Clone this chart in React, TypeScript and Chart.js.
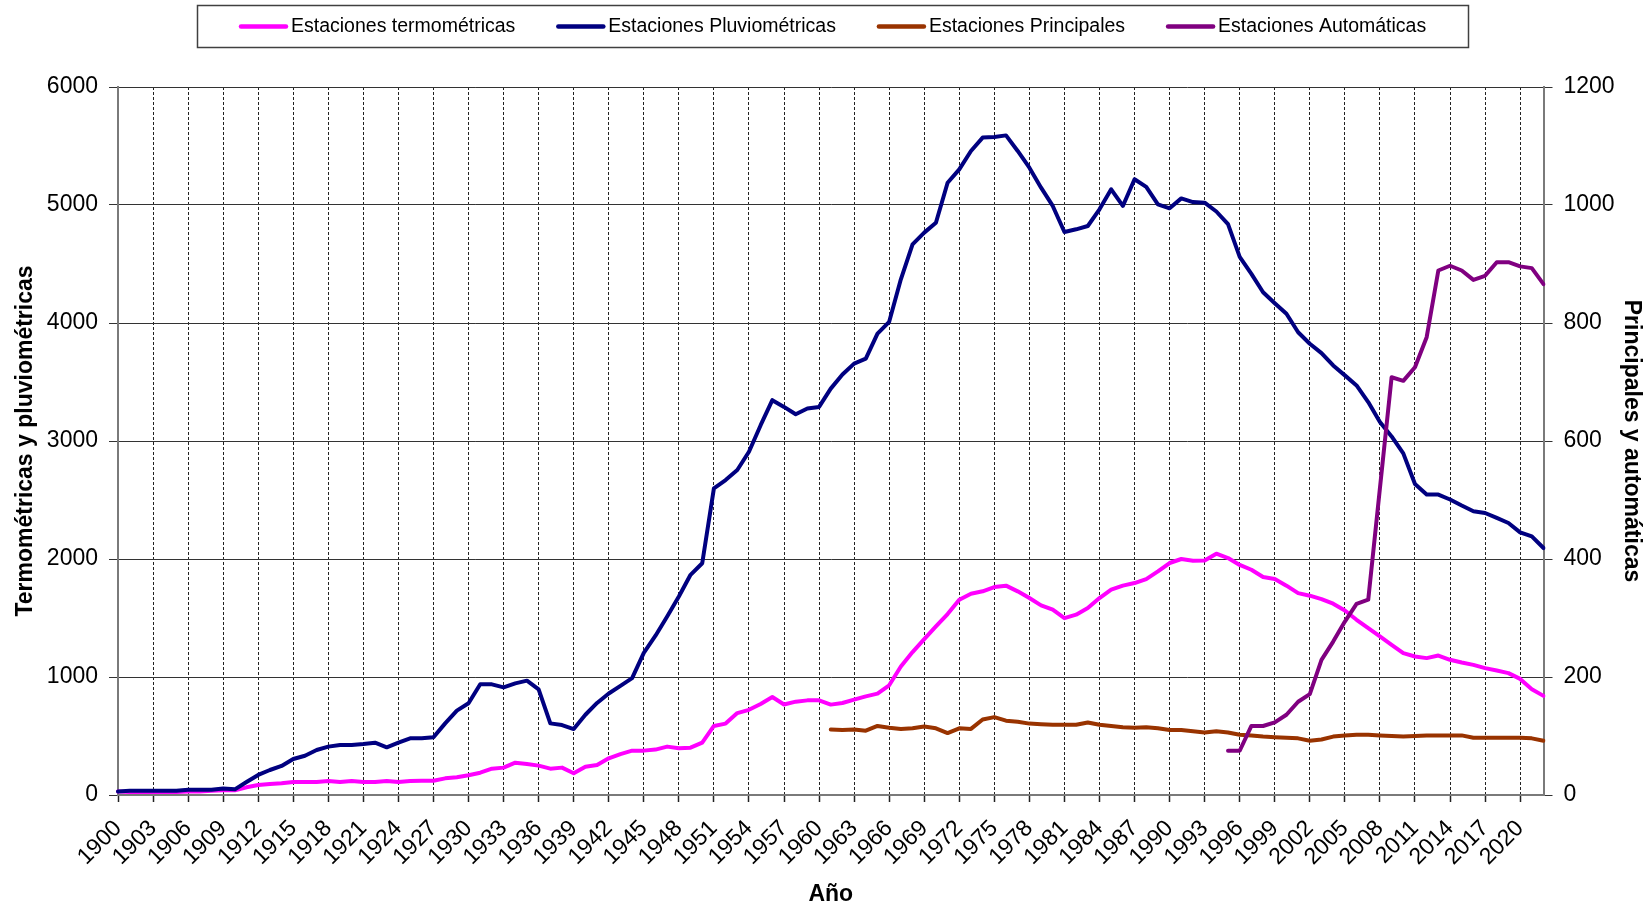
import React, { useEffect, useRef } from "react";
import { Chart, registerables } from "chart.js";
Chart.register(...registerables);

const FONT = "'Liberation Sans', Arial, Helvetica, sans-serif";

const YEARS = [
  1900, 1901, 1902, 1903, 1904, 1905, 1906, 1907, 1908, 1909,
  1910, 1911, 1912, 1913, 1914, 1915, 1916, 1917, 1918, 1919,
  1920, 1921, 1922, 1923, 1924, 1925, 1926, 1927, 1928, 1929,
  1930, 1931, 1932, 1933, 1934, 1935, 1936, 1937, 1938, 1939,
  1940, 1941, 1942, 1943, 1944, 1945, 1946, 1947, 1948, 1949,
  1950, 1951, 1952, 1953, 1954, 1955, 1956, 1957, 1958, 1959,
  1960, 1961, 1962, 1963, 1964, 1965, 1966, 1967, 1968, 1969,
  1970, 1971, 1972, 1973, 1974, 1975, 1976, 1977, 1978, 1979,
  1980, 1981, 1982, 1983, 1984, 1985, 1986, 1987, 1988, 1989,
  1990, 1991, 1992, 1993, 1994, 1995, 1996, 1997, 1998, 1999,
  2000, 2001, 2002, 2003, 2004, 2005, 2006, 2007, 2008, 2009,
  2010, 2011, 2012, 2013, 2014, 2015, 2016, 2017, 2018, 2019,
  2020, 2021, 2022,
];

// every third year carries a tick label
const TICK_EVERY = 3;

const TERMO = [
  30, 25, 25, 25, 25, 25, 30, 30, 35, 40,
  40, 65, 85, 93, 99, 110, 110, 110, 119, 110,
  119, 110, 110, 119, 110, 119, 121, 121, 141, 150,
  167, 189, 223, 232, 274, 263, 249, 223, 232, 184,
  240, 254, 311, 347, 376, 376, 385, 410, 396, 401,
  444, 585, 605, 694, 722, 771, 830, 767, 791, 802,
  802, 766, 780, 808, 836, 859, 930, 1089, 1211, 1321,
  1429, 1533, 1655, 1706, 1726, 1762, 1774, 1726, 1669, 1607,
  1570, 1499, 1528, 1584, 1669, 1740, 1774, 1796, 1830, 1895,
  1966, 2000, 1986, 1988, 2045, 2008, 1950, 1909, 1847, 1830,
  1774, 1711, 1689, 1660, 1621, 1564, 1485, 1414, 1344, 1273,
  1202, 1174, 1160, 1182, 1146, 1123, 1103, 1075, 1055, 1033,
  984, 897, 840,
];

const PLUVIO = [
  30, 35, 35, 37, 37, 37, 45, 45, 45, 55,
  48, 110, 170, 212, 246, 305, 333, 381, 410, 424,
  424, 432, 443, 404, 443, 480, 480, 489, 607, 715,
  777, 938, 938, 912, 946, 969, 895, 607, 593, 559,
  680, 780, 860, 925, 990, 1205, 1350, 1513, 1682, 1866,
  1964, 2599, 2669, 2754, 2909, 3134, 3346, 3289, 3227, 3275,
  3289, 3444, 3563, 3656, 3698, 3910, 4010, 4370, 4667, 4766,
  4850, 5189, 5302, 5458, 5571, 5576, 5590, 5458, 5316, 5147,
  4992, 4771, 4794, 4822, 4963, 5133, 4992, 5218, 5153, 5006,
  4972, 5056, 5025, 5020, 4945, 4838, 4560, 4416, 4261, 4168,
  4078, 3922, 3824, 3745, 3640, 3556, 3471, 3330, 3161, 3039,
  2895, 2635, 2546, 2546, 2504, 2453, 2405, 2390, 2348, 2305,
  2226, 2192, 2093,
];

const PRINC_START = 1961;
const PRINCIPALES = [
  111, 110, 111, 109, 117, 114, 112, 113, 116,
  113, 105, 113, 112, 128, 132, 126, 124, 121, 120,
  119, 119, 119, 123, 119, 117, 115, 114, 115, 113,
  110, 110, 108, 106, 108, 106, 102, 101, 99, 98,
  97, 96, 92, 94, 99, 101, 102, 102, 101, 100,
  99, 100, 101, 101, 101, 101, 97, 97, 97, 97,
  97, 96, 92,
];

const AUTO_START = 1995;
const AUTOMATICAS = [
  75, 75, 117, 117, 123,
  136, 158, 171, 229, 260, 294, 324, 331, 520, 708,
  702, 725, 776, 889, 897, 889, 873, 880, 903, 903,
  896, 893, 866,
];

const SERIES_NAMES = [
  "Estaciones termométricas",
  "Estaciones Pluviométricas",
  "Estaciones Principales",
  "Estaciones Automáticas",
];
const COLORS = ["#FF00FF", "#000080", "#993300", "#800080"];

const fromYear = (start: number, vals: number[]) =>
  YEARS.map((y) => (y >= start && y - start < vals.length ? vals[y - start] : null));

const legendBox = {
  id: "legendBox",
  afterDraw(chart: any) {
    const ctx = chart.ctx as CanvasRenderingContext2D;
    ctx.save();
    ctx.strokeStyle = "#404040";
    ctx.lineWidth = 1.5;
    ctx.strokeRect(197.5, 5.5, 1271, 42);
    ctx.font = `19.5px ${FONT}`;
    ctx.textBaseline = "middle";
    let x = 241;
    const y = 26.5;
    chart.data.datasets.forEach((ds: any) => {
      ctx.strokeStyle = ds.borderColor;
      ctx.lineWidth = 4.5;
      ctx.lineCap = "round";
      ctx.beginPath();
      ctx.moveTo(x, y);
      ctx.lineTo(x + 45, y);
      ctx.stroke();
      ctx.fillStyle = "#000";
      ctx.fillText(ds.label, x + 50, y);
      x += 50 + ctx.measureText(ds.label).width + 43;
    });
    ctx.restore();
  },
};

export default function App() {
  const ref = useRef<HTMLCanvasElement | null>(null);
  useEffect(() => {
    if (!ref.current) return;
    Chart.defaults.font.family = FONT;
    const tickFont = { size: 23, family: FONT };
    const titleFont = { size: 23, weight: "bold" as const, family: FONT };
    const chart = new Chart(ref.current, {
      type: "line",
      data: {
        labels: YEARS.map(String),
        datasets: [
          { label: SERIES_NAMES[0], data: TERMO, borderColor: COLORS[0], backgroundColor: COLORS[0], yAxisID: "y", order: 3 },
          { label: SERIES_NAMES[1], data: PLUVIO, borderColor: COLORS[1], backgroundColor: COLORS[1], yAxisID: "y", order: 2 },
          { label: SERIES_NAMES[2], data: fromYear(PRINC_START, PRINCIPALES), borderColor: COLORS[2], backgroundColor: COLORS[2], yAxisID: "y1", order: 1 },
          { label: SERIES_NAMES[3], data: fromYear(AUTO_START, AUTOMATICAS), borderColor: COLORS[3], backgroundColor: COLORS[3], yAxisID: "y1", order: 0 },
        ],
      },
      options: {
        animation: false,
        responsive: false,
        layout: { padding: { left: 12, right: 4, top: 87, bottom: 0 } },
        plugins: { legend: { display: false }, tooltip: { enabled: false } },
        elements: {
          point: { radius: 0 },
          line: { borderWidth: 4, tension: 0, borderJoinStyle: "round", borderCapStyle: "round" },
        },
        scales: {
          x: {
            type: "category",
            offset: false,
            afterFit: (s: any) => { s.height = 113; },
            grid: {
              color: (c: any) => (c.index % TICK_EVERY === 0 ? "#222" : "rgba(0,0,0,0)"),
              lineWidth: 1,
              tickLength: 7,
              tickWidth: 1.5,
            },
            border: { color: "#7a7a7a", width: 2, dash: [3, 2] },
            ticks: {
              autoSkip: false,
              maxRotation: 45,
              minRotation: 45,
              padding: 13,
              color: "#000",
              font: tickFont,
              callback: (_v: any, i: number) => (i % TICK_EVERY === 0 ? String(YEARS[i]) : ""),
            },
            title: { display: true, text: "Año", color: "#000", font: titleFont, padding: { top: 0, bottom: 0 } },
          },
          y: {
            position: "left",
            min: 0,
            max: 6000,
            afterFit: (s: any) => { s.width = 106; },
            ticks: { stepSize: 1000, padding: 11, color: "#000", font: tickFont, callback: (v: any) => String(v) },
            grid: { color: "#333", lineWidth: 1, tickLength: 9 },
            border: { color: "#7a7a7a", width: 2 },
            title: { display: true, text: "Termométricas y pluviométricas", color: "#000", font: titleFont, padding: { top: 0, bottom: 0 } },
          },
          y1: {
            position: "right",
            min: 0,
            max: 1200,
            afterFit: (s: any) => { s.width = 101.5; },
            ticks: { stepSize: 200, padding: 11, color: "#000", font: tickFont, callback: (v: any) => String(v) },
            grid: { drawOnChartArea: false, color: "#333", tickLength: 9 },
            border: { color: "#7a7a7a", width: 2 },
            title: { display: true, text: "Principales y automáticas", color: "#000", font: titleFont, padding: { top: 0, bottom: 0 } },
          },
        },
      },
      plugins: [legendBox],
    });
    return () => chart.destroy();
  }, []);
  return (
    <div style={{ position: "fixed", left: 0, top: 0, width: 1649, height: 908, background: "#fff" }}>
      <canvas ref={ref} width={1649} height={908} style={{ display: "block" }} />
    </div>
  );
}
